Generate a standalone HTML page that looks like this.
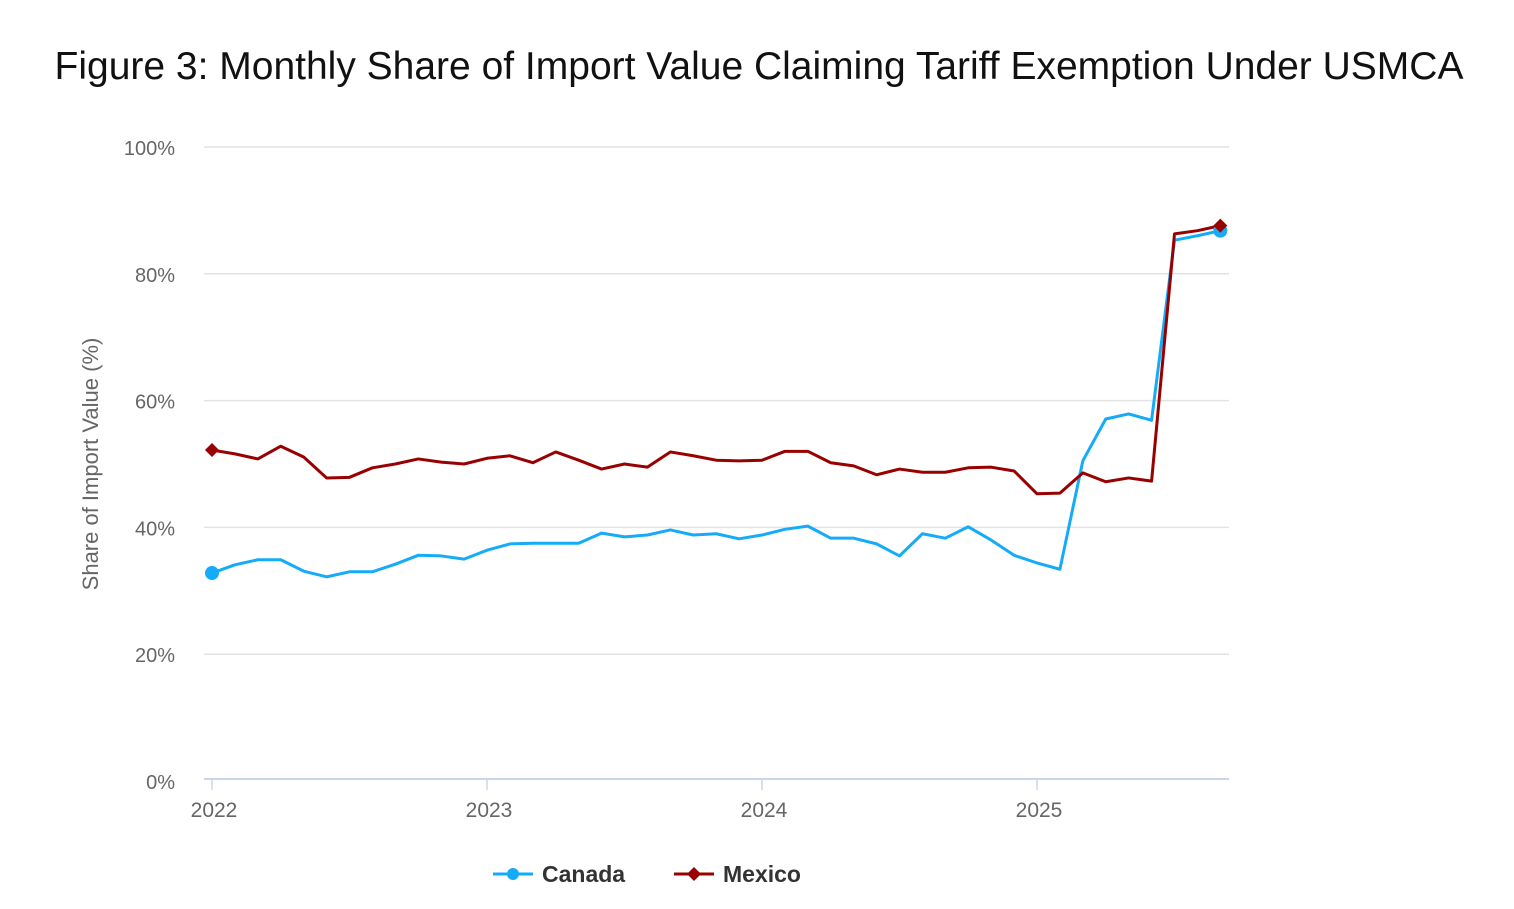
<!DOCTYPE html>
<html><head><meta charset="utf-8"><style>
body{margin:0;background:#fff;width:1514px;height:904px;overflow:hidden;font-family:"Liberation Sans",sans-serif}
</style></head><body>
<svg width="1514" height="904" xmlns="http://www.w3.org/2000/svg">
<text x="759" y="79" text-anchor="middle" font-size="39" fill="#111">Figure 3: Monthly Share of Import Value Claiming Tariff Exemption Under USMCA</text>
<g id="grid"></g><g id="axes"></g><g id="series"></g>
<text transform="translate(98,464) rotate(-90)" text-anchor="middle" font-size="22" fill="#666">Share of Import Value (%)</text>
<g>
<g><line x1="493" y1="874" x2="533" y2="874" stroke="#15abf7" stroke-width="3"/><circle cx="513" cy="874" r="6" fill="#15abf7"/><text x="542" y="882" font-size="23" font-weight="bold" fill="#333">Canada</text></g>
<g><line x1="674" y1="874" x2="714" y2="874" stroke="#990000" stroke-width="3"/><path d="M694 867 L701 874 L694 881 L687 874Z" fill="#990000"/><text x="723" y="882" font-size="23" font-weight="bold" fill="#333">Mexico</text></g>
</g>
</svg>
<script>
const yTicks=[0,20,40,60,80,100];
const years=["2022","2023","2024","2025"];
const canada=[32.8,34.1,34.9,34.9,33.1,32.2,33.0,33.0,34.2,35.6,35.5,35.0,36.4,37.4,37.5,37.5,37.5,39.1,38.5,38.8,39.6,38.8,39.0,38.2,38.8,39.7,40.2,38.3,38.3,37.4,35.5,39.0,38.3,40.1,38.0,35.6,34.4,33.4,50.5,57.1,57.9,56.9,85.3,86.0,86.8];
const mexico=[52.2,51.6,50.8,52.8,51.1,47.8,47.9,49.4,50.0,50.8,50.3,50.0,50.9,51.3,50.2,51.9,50.6,49.2,50.0,49.5,51.9,51.3,50.6,50.5,50.6,52.0,52.0,50.2,49.7,48.3,49.2,48.7,48.7,49.4,49.5,48.9,45.3,45.4,48.6,47.2,47.8,47.3,86.3,86.8,87.6];
const NS="http://www.w3.org/2000/svg";
const X=m=>212+m*275/12, Y=v=>781-v*6.34;
function mk(t,a,p){const e=document.createElementNS(NS,t);for(const k in a)e.setAttribute(k,a[k]);p.appendChild(e);return e;}
const grid=document.getElementById('grid'),axes=document.getElementById('axes'),ser=document.getElementById('series');
yTicks.forEach(v=>{
 if(v>0){const l=mk('line',{x1:204,x2:1229,y1:Y(v),y2:Y(v),stroke:'#e3e3e3','stroke-width':1.5},grid);
 
 }
 const t=mk('text',{x:175,y:Y(v)+8,'text-anchor':'end','font-size':20,fill:'#666'},axes);t.textContent=v+'%';
 
 
});
const ax=mk('line',{x1:204,x2:1229,y1:779,y2:779,stroke:'#ccd6eb','stroke-width':2},axes);


years.forEach((y,i)=>{
 const x=X(i*12);
 mk('line',{x1:x,x2:x,y1:779,y2:790,stroke:'#ccd6eb','stroke-width':1.5},axes);
 const t=mk('text',{x:x+2,y:817,'text-anchor':'middle','font-size':21,fill:'#666'},axes);t.textContent=y;
 
 
});
function line(d,c,name){
 const p=mk('polyline',{points:d.map((v,i)=>X(i)+','+Y(v)).join(' '),fill:'none',stroke:c,'stroke-width':3,'stroke-linejoin':'round'},ser);
 
 
}
line(canada,'#15abf7','canada');line(mexico,'#990000','mexico');
[[0,canada[0]],[canada.length-1,canada[canada.length-1]]].forEach(([i,v])=>{
 const c=mk('circle',{cx:X(i),cy:Y(v),r:7,fill:'#15abf7'},ser);
 
 
});
[[0,mexico[0]],[mexico.length-1,mexico[mexico.length-1]]].forEach(([i,v])=>{
 const x=X(i),y=Y(v);
 const p=mk('path',{d:`M${x} ${y-7}L${x+7} ${y}L${x} ${y+7}L${x-7} ${y}Z`,fill:'#990000'},ser);
 
 
});
</script>
</body></html>
